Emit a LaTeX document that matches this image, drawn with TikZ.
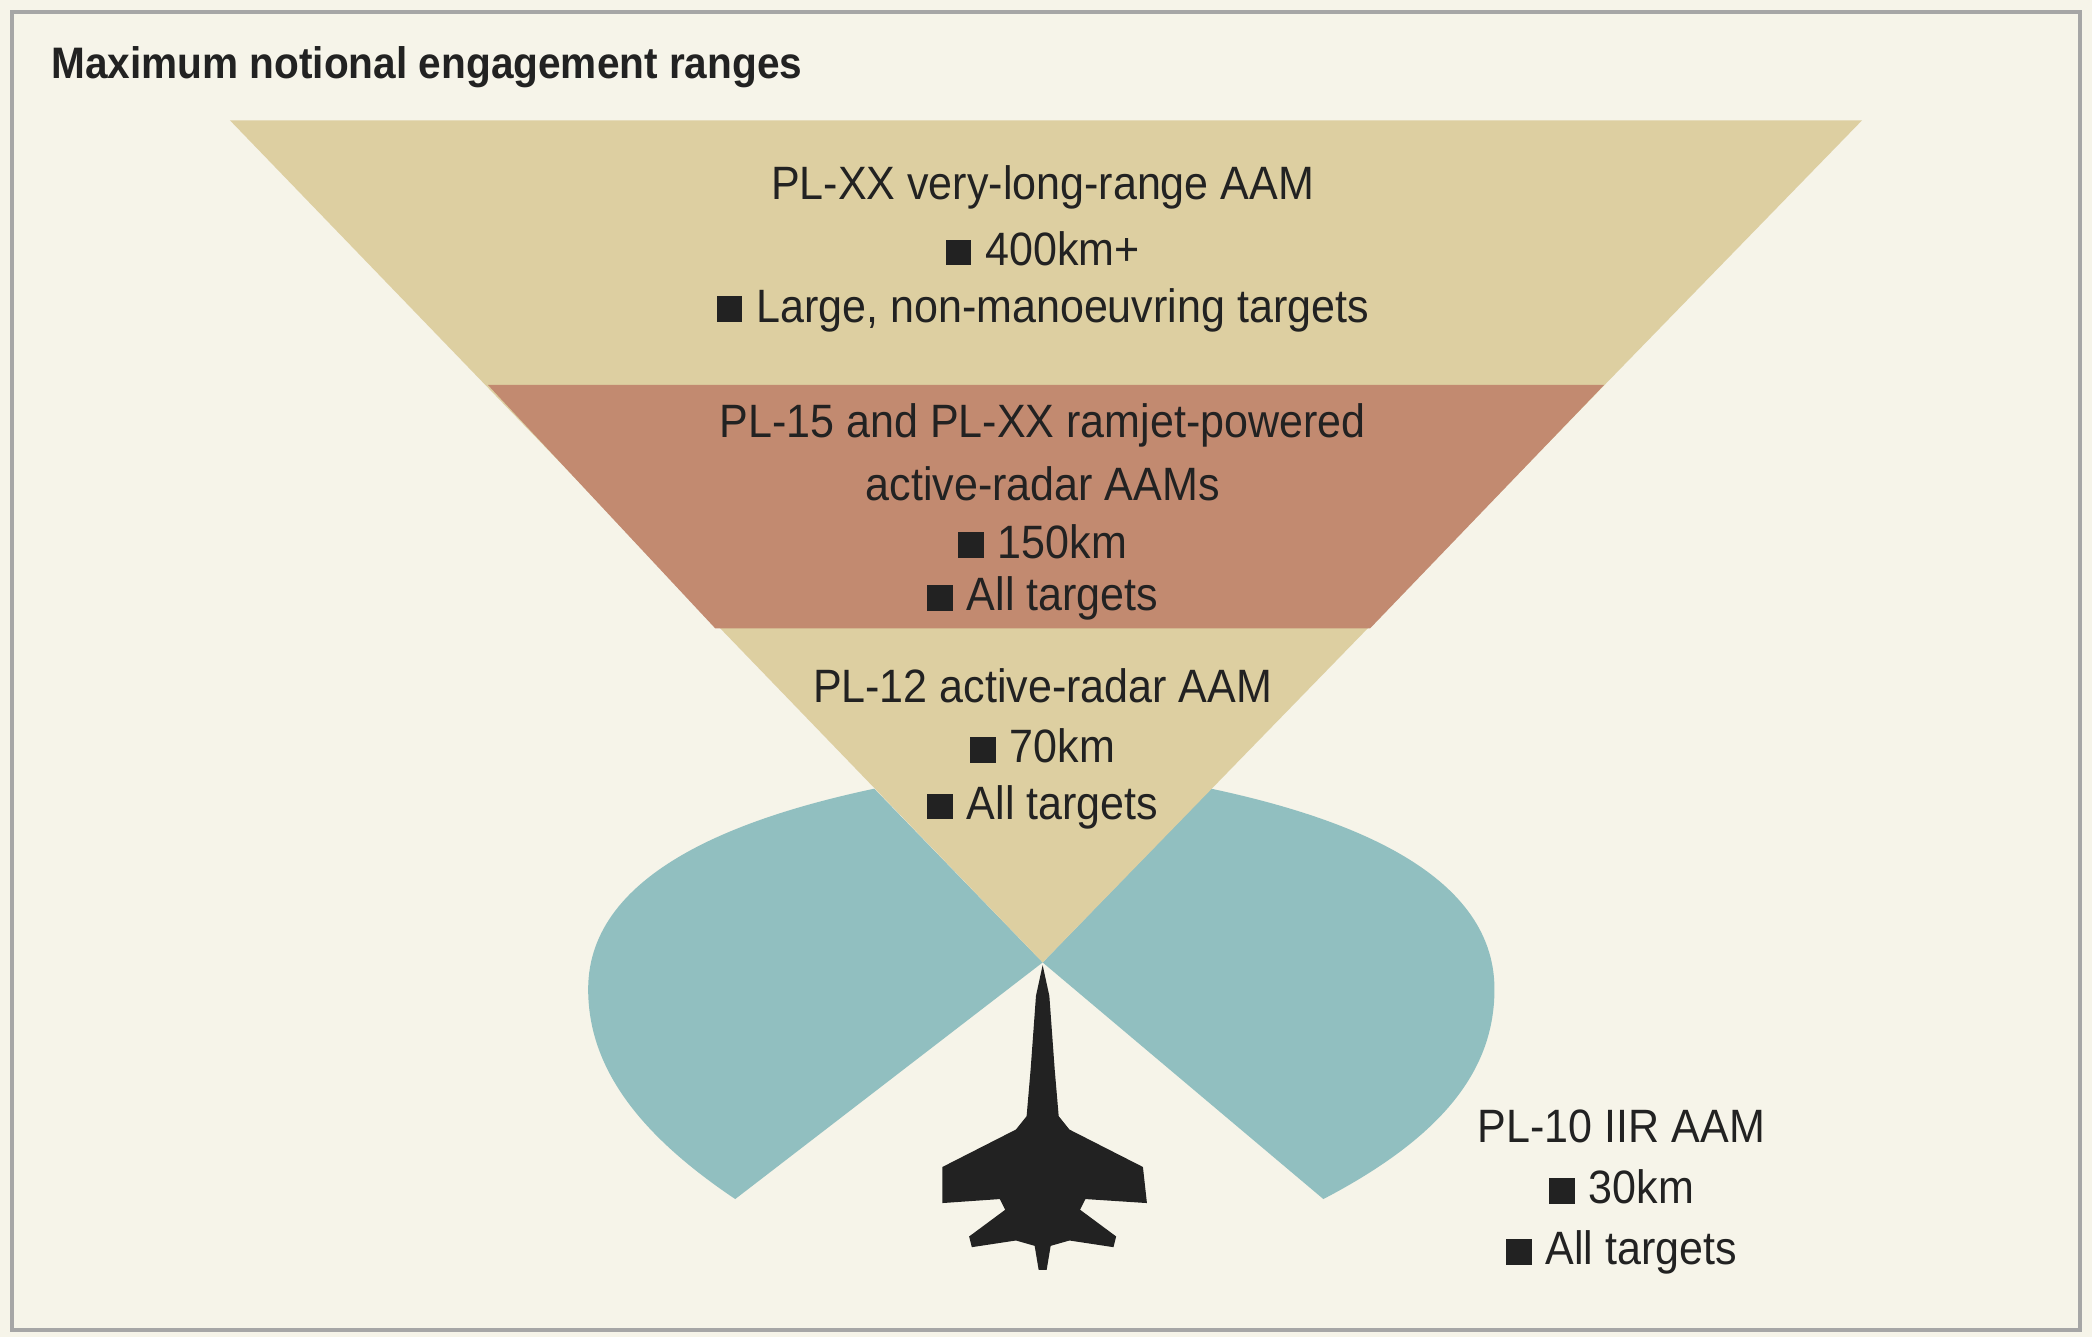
\documentclass[tikz,border=0pt]{standalone}
\usepackage{fontspec}
\setmainfont{Liberation Sans}[FakeStretch=0.92]
\begin{document}
\begin{tikzpicture}[x=0.5pt,y=-0.5pt]
\definecolor{bg}{HTML}{F6F4E9}
\definecolor{tan}{HTML}{DDCFA1}
\definecolor{rust}{HTML}{C28A70}
\definecolor{teal}{HTML}{91BFC0}
\definecolor{ink}{HTML}{222222}
\tikzset{lbl/.style={font=\fontsize{17.5}{19}\selectfont,text=ink,anchor=center,inner sep=0}}
\newcommand{\bsq}{\rule{0.55em}{0.55em}\hspace{0.3em}}
\useasboundingbox (0,0) rectangle (1565,1000);
\fill[bg] (0,0) rectangle (1565,1000);
\draw[gray!70,line width=1.5pt] (9,9) rectangle (1556,995);
\node[anchor=west,inner sep=0,font=\bfseries\fontsize{16.5}{18}\selectfont,text=ink] (title) at (38,50) {Maximum notional engagement ranges};
% lobes
\fill[teal] (780,720) -- (654,590) .. controls (560,610) and (440,650) .. (440,740) .. controls (440,800) and (480,850) .. (550,897) -- cycle;
\fill[teal] (780,720) -- (906,590) .. controls (1000,610) and (1118,650) .. (1118,740) .. controls (1118,800) and (1080,850) .. (990,897) -- cycle;
% triangle bands
\fill[tan] (172,90) -- (1393,90) -- (780,720) -- cycle;
\fill[rust] (365,288) -- (1200,288) -- (1025,470) -- (535,470) -- cycle;
% jet
\fill[ink] (780,722) -- (785,745) -- (789,800) -- (792,835) -- (800,845) -- (855,873) -- (858,900) -- (812,897) -- (808,905) -- (835,925) -- (833,933) -- (800,928) -- (786,932) -- (783,950) -- (777,950) -- (774,932) -- (760,928) -- (727,933) -- (725,925) -- (752,905) -- (748,897) -- (705,900) -- (705,873) -- (760,845) -- (768,835) -- (771,800) -- (775,745) -- cycle;
% texts
\node[lbl] (a1) at (780,140) {PL-XX very-long-range AAM};
\node[lbl] (a2) at (780,186) {\bsq 400km+};
\node[lbl] (a3) at (780,232) {\bsq Large, non-manoeuvring targets};
\node[lbl] (b1) at (780,318) {PL-15 and PL-XX ramjet-powered};
\node[lbl] (b2) at (780,362) {active-radar AAMs};
\node[lbl] (b3) at (780,405) {\bsq 150km};
\node[lbl] (b4) at (780,448) {\bsq All targets};
\node[lbl] (c1) at (780,513) {PL-12 active-radar AAM};
\node[lbl] (c2) at (780,558) {\bsq 70km};
\node[lbl] (c3) at (780,604) {\bsq All targets};
\node[lbl] (d1) at (1213,843) {PL-10 IIR AAM};
\node[lbl] (d2) at (1213,888) {\bsq 30km};
\node[lbl] (d3) at (1213,937) {\bsq All targets};
\end{tikzpicture}
\end{document}
